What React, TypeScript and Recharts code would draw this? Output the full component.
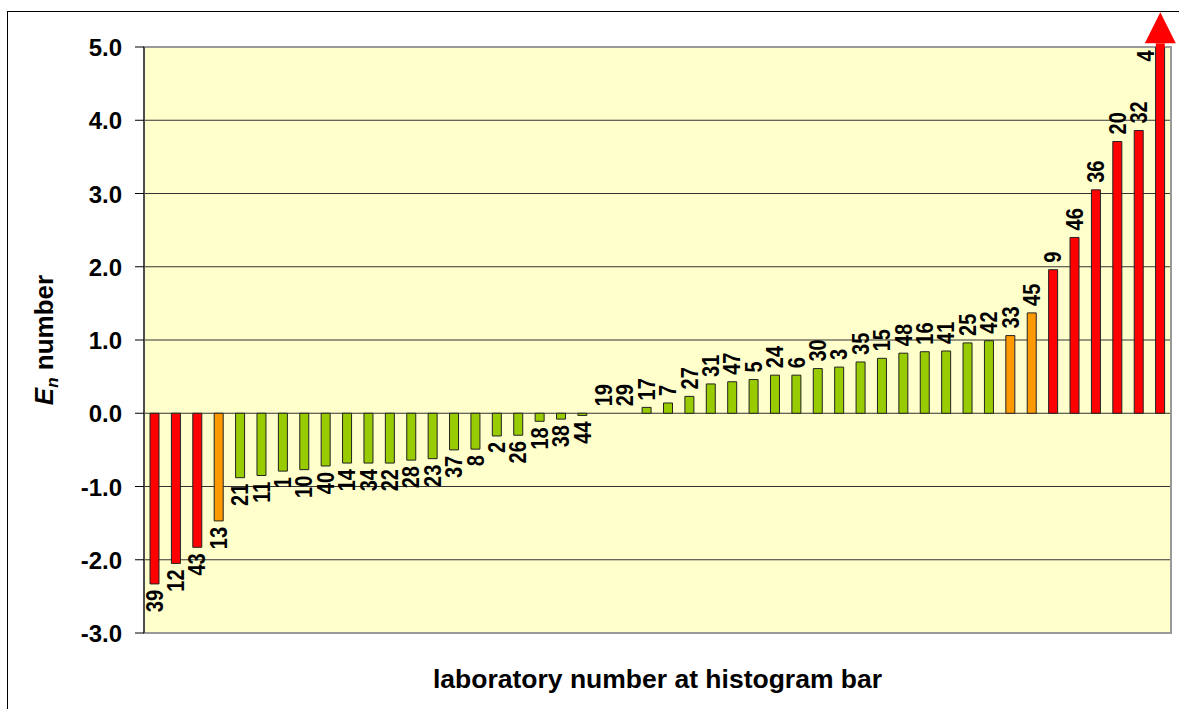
import React from "react";
import {
  Bar,
  BarChart,
  CartesianGrid,
  Cell,
  LabelList,
  Line,
  ReferenceArea,
  XAxis,
  YAxis,
} from "recharts";

// laboratory numbers, sorted by En
const labs = [
  "39", "12", "43", "13", "21", "11", "1", "10", "40", "14", "34", "22",
  "28", "23", "37", "8", "2", "26", "18", "38", "44", "19", "29", "17",
  "7", "27", "31", "47", "5", "24", "6", "30", "3", "35", "15", "48",
  "16", "41", "25", "42", "33", "45", "9", "46", "36", "20", "32", "4",
];

const enValues = [
  -2.33, -2.05, -1.83, -1.47, -0.88, -0.85, -0.79, -0.77, -0.72, -0.68, -0.68, -0.68,
  -0.64, -0.62, -0.5, -0.49, -0.31, -0.3, -0.11, -0.08, -0.03, 0, 0, 0.08,
  0.14, 0.23, 0.4, 0.43, 0.46, 0.52, 0.52, 0.61, 0.63, 0.7, 0.75, 0.82,
  0.84, 0.85, 0.96, 0.99, 1.06, 1.37, 1.96, 2.4, 3.05, 3.71, 3.86, 5.05,
];

// r = red, o = orange, g = green
const ratings = [
  "r", "r", "r", "o", "g", "g", "g", "g", "g", "g", "g", "g",
  "g", "g", "g", "g", "g", "g", "g", "g", "g", "g", "g", "g",
  "g", "g", "g", "g", "g", "g", "g", "g", "g", "g", "g", "g",
  "g", "g", "g", "g", "o", "o", "r", "r", "r", "r", "r", "r",
];

const yTicks = [-3, -2, -1, 0, 1, 2, 3, 4, 5];

const Y_MIN = -3;
const Y_MAX = 5;
const BAR_SIZE = 9;
const colors: Record<string, string> = { r: "#FF0000", o: "#FF9900", g: "#99CC00" };
const font = '"Liberation Sans", Arial, sans-serif';

const data = labs.map((lab, i) => ({ lab, en: enValues[i], rating: ratings[i] }));
const enByLab: Record<string, number> = {};
labs.forEach((lab, i) => (enByLab[lab] = enValues[i]));

function YTick({ x, y, payload }: any) {
  return (
    <text
      x={x}
      y={y}
      dy={9}
      textAnchor="end"
      fontFamily={font}
      fontSize={24}
      fontWeight="bold"
      fill="#000"
    >
      {Number(payload.value).toFixed(1)}
    </text>
  );
}

// rotated lab number, glyphs a bit taller like the original
function VText({ x, y, anchor, children }: any) {
  return (
    <text
      x={0}
      y={0}
      transform={`translate(${x} ${y}) rotate(-90) scale(1 1.15)`}
      textAnchor={anchor}
      fontFamily={font}
      fontSize={20}
      fontWeight="bold"
      fill="#000"
    >
      {children}
    </text>
  );
}

// label drawn at the end of each bar (from an invisible line through the bar ends)
function PointLabel(props: any) {
  const px = props.viewBox?.x ?? props.x;
  const py = props.viewBox?.y ?? props.y;
  if (px == null || py == null) return null;
  const lab = String(props.value);
  const en = enByLab[lab];

  if (en > Y_MAX) {
    // off-scale value: arrow on top of the bar, label beside it
    return (
      <g>
        <rect x={px - BAR_SIZE / 2} y={py} width={BAR_SIZE} height={5} fill={colors.r} />
        <polygon
          points={`${px - 15.5},${py} ${px + 15.5},${py} ${px},${py - 31}`}
          fill={colors.r}
        />
        <VText x={px - 6} y={py + 7} anchor="end">{lab}</VText>
      </g>
    );
  }

  const bx = px + 8;
  if (en < 0) {
    return <VText x={bx} y={py + 6} anchor="end">{lab}</VText>;
  }
  return <VText x={bx} y={py - 7} anchor="start">{lab}</VText>;
}

function YTitle({ viewBox }: any) {
  const vx = viewBox?.x ?? 0;
  const cy = (viewBox?.y ?? 47) + (viewBox?.height ?? 586) / 2;
  const bx = vx + 53;
  return (
    <text
      x={bx}
      y={cy}
      textAnchor="middle"
      transform={`rotate(-90 ${bx} ${cy})`}
      fontFamily={font}
      fontSize={26}
      fontWeight="bold"
      fill="#000"
    >
      <tspan fontStyle="italic">E</tspan>
      <tspan fontStyle="italic" fontSize={17} dy={5}>n</tspan>
      <tspan dy={-5}> number</tspan>
    </text>
  );
}

function XTitle({ viewBox }: any) {
  const cx = (viewBox?.x ?? 144) + (viewBox?.width ?? 1027) / 2;
  const by = (viewBox?.y ?? 633) + 55;
  return (
    <text
      x={cx}
      y={by}
      textAnchor="middle"
      fontFamily={font}
      fontSize={26.5}
      fontWeight="bold"
      fill="#000"
    >
      laboratory number at histogram bar
    </text>
  );
}

export default function App() {
  return (
    <div
      style={{
        position: "fixed",
        left: 0,
        top: 0,
        width: 1179,
        height: 709,
        background: "#fff",
        overflow: "hidden",
      }}
    >
      <div
        style={{
          position: "absolute",
          left: 7,
          top: 11,
          right: 0,
          bottom: 0,
          borderLeft: "1px solid #000",
          borderTop: "1px solid #000",
        }}
      />
      <div style={{ position: "absolute", left: 0, top: 0 }}>
        <BarChart
          width={1179}
          height={709}
          data={data}
          margin={{ top: 47, right: 8, left: 0, bottom: 0 }}
        >
          <CartesianGrid vertical={false} stroke="#333" fill="#FFFFCC" />
          <ReferenceArea
            y1={Y_MIN}
            y2={Y_MAX}
            fill="none"
            stroke="#999"
            strokeWidth={2}
          />
          <XAxis
            dataKey="lab"
            tick={false}
            tickLine={false}
            axisLine={false}
            height={76}
            label={<XTitle />}
          />
          <YAxis
            type="number"
            domain={[Y_MIN, Y_MAX]}
            ticks={yTicks}
            interval={0}
            allowDataOverflow
            width={144}
            tickSize={9}
            tickMargin={13}
            axisLine={{ stroke: "#000" }}
            tickLine={{ stroke: "#000" }}
            tick={<YTick />}
            label={<YTitle />}
          />
          <Bar
            dataKey="en"
            barSize={BAR_SIZE}
            stroke="#222"
            strokeWidth={1}
            isAnimationActive={false}
          >
            {data.map((d, i) => (
              <Cell key={i} fill={colors[d.rating]} />
            ))}
          </Bar>
          <Line
            dataKey="en"
            stroke="none"
            dot={false}
            activeDot={false}
            legendType="none"
            isAnimationActive={false}
          >
            <LabelList dataKey="lab" content={<PointLabel />} />
          </Line>
        </BarChart>
      </div>
    </div>
  );
}
